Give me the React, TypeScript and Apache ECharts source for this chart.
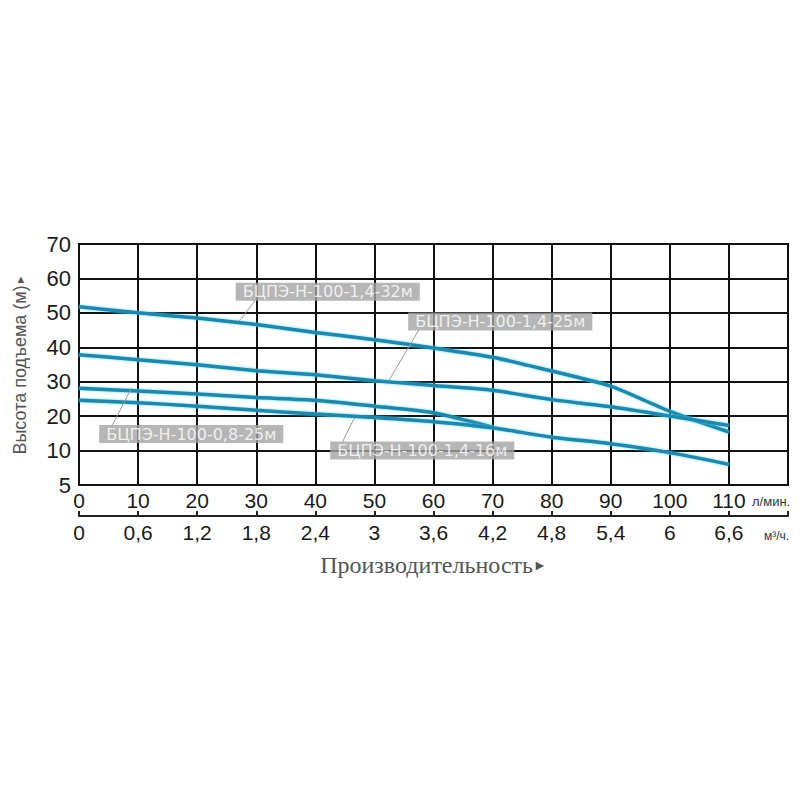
import React, { useEffect, useRef } from "react";
import * as echarts from "echarts";

// Flow, l/min
const flowLpm = [0, 10, 20, 30, 40, 50, 60, 70, 80, 90, 100, 110];
// Head (plot units; bottom gridline labelled "5")
const head32 = [51.8, 50, 48.5, 46.6, 44.3, 42.2, 39.8, 37.1, 33.1, 28.7, 21.4, 15.4];
const head25 = [37.8, 36.4, 34.9, 33.2, 32, 30.3, 28.9, 27.5, 24.8, 22.7, 20, 17.3];
const head08 = [28.1, 27.3, 26.4, 25.4, 24.6, 22.9, 21, 16.8];
const head16 = [24.6, 23.9, 22.9, 21.7, 20.6, 19.6, 18.4, 16.6, 13.9, 12, 9.4, 6];

const seriesNames = [
  "БЦПЭ-Н-100-1,4-32м",
  "БЦПЭ-Н-100-1,4-25м",
  "БЦПЭ-Н-100-0,8-25м",
  "БЦПЭ-Н-100-1,4-16м",
];
// label box centres (data coords)
const labelPos = [
  [42.1, 56.1],
  [71.3, 47.5],
  [19, 14.8],
  [58.1, 10],
];
// leader lines (data coords): curve point -> label
const leaders = [
  [[27, 47.4], [29.8, 53.5]],
  [[52.5, 30.5], [57.5, 45]],
  [[8.9, 28.2], [5.5, 16.9]],
  [[46.6, 19.5], [44.6, 12.5]],
];

const yTicks = [0, 10, 20, 30, 40, 50, 60, 70];
const yTickLabels = ["5", "10", "20", "30", "40", "50", "60", "70"];

const LINE_COLOR = "#1a88ae";

export default function App() {
  const ref = useRef<HTMLDivElement>(null);
  useEffect(() => {
    if (!ref.current) return;
    const chart = echarts.init(ref.current, undefined, { renderer: "svg" });
    const toPairs = (arr: number[]) => arr.map((v, i) => [flowLpm[i], v]);
    const lineSeries = [head32, head25, head08, head16].map((d, i) => ({
      type: "line",
      name: seriesNames[i],
      data: toPairs(d),
      showSymbol: false,
      smooth: 0.2,
      xAxisIndex: 0,
      yAxisIndex: 0,
      z: 3,
      lineStyle: {
        color: LINE_COLOR,
        width: 3.5,
        shadowColor: "rgba(60,205,245,0.9)",
        shadowBlur: 2,
      },
    }));
    chart.setOption({
      animation: false,
      grid: {
        left: 79,
        right: 12,
        top: 244,
        bottom: 315,
        show: true,
        borderColor: "#111",
        borderWidth: 2,
      },
      xAxis: [
        {
          type: "value",
          min: 0,
          max: 120,
          interval: 10,
          position: "bottom",
          axisLine: { show: true, lineStyle: { color: "#111", width: 2 } },
          axisTick: { show: false },
          splitLine: { show: true, lineStyle: { color: "#111", width: 2 } },
          axisLabel: {
            fontSize: 21,
            color: "#1a1a1a",
            fontFamily: "Liberation Sans, Arial, sans-serif",
            margin: 5,
            formatter: (v: number) => (v > 115 ? "" : String(v)),
          },
        },
        {
          type: "value",
          min: 0,
          max: 7.2,
          interval: 0.6,
          position: "bottom",
          offset: 31,
          axisLine: { show: true, lineStyle: { color: "#222", width: 2 } },
          axisTick: { show: true, inside: true, length: 5, lineStyle: { color: "#222", width: 2 } },
          splitLine: { show: false },
          axisLabel: {
            fontSize: 21,
            color: "#1a1a1a",
            fontFamily: "Liberation Sans, Arial, sans-serif",
            margin: 6,
            formatter: (v: number) =>
              v > 7 ? "" : String(Math.round(v * 10) / 10).replace(".", ","),
          },
          name: "Производительность{t|►}",
          nameLocation: "middle",
          nameGap: 37,
          nameTextStyle: {
            fontSize: 24,
            color: "#555",
            fontFamily: "Liberation Serif, DejaVu Serif, serif",
            rich: { t: { fontSize: 14, color: "#555" } },
          },
        },
      ],
      yAxis: {
        type: "value",
        min: 0,
        max: 70,
        interval: 10,
        axisLine: { show: true, lineStyle: { color: "#111", width: 2 } },
        axisTick: { show: false },
        splitLine: { show: true, lineStyle: { color: "#111", width: 2 } },
        axisLabel: {
          fontSize: 22,
          color: "#1a1a1a",
          fontFamily: "Liberation Sans, Arial, sans-serif",
          margin: 8,
          formatter: (v: number) => yTickLabels[yTicks.indexOf(v)] ?? String(v),
        },
        name: "Высота подъема (м){t|►}",
        nameLocation: "middle",
        nameRotate: 90,
        nameGap: 50,
        nameTextStyle: {
          fontSize: 18,
          color: "#555",
          fontFamily: "Liberation Sans, Arial, sans-serif",
          rich: { t: { fontSize: 11, color: "#555" } },
        },
      },
      series: [
        ...lineSeries,
        {
          type: "lines",
          coordinateSystem: "cartesian2d",
          xAxisIndex: 0,
          yAxisIndex: 0,
          silent: true,
          z: 4,
          lineStyle: { color: "#9a9a9a", width: 1, opacity: 1 },
          data: leaders.map((c) => ({ coords: c })),
        },
        {
          type: "scatter",
          xAxisIndex: 0,
          yAxisIndex: 0,
          silent: true,
          z: 5,
          symbolSize: 1,
          itemStyle: { color: "rgba(0,0,0,0)" },
          data: labelPos.map((p, i) => ({ value: p, name: seriesNames[i] })),
          label: {
            show: true,
            position: "inside",
            formatter: "{b}",
            color: "#fff",
            fontSize: 16,
            fontFamily: "DejaVu Sans",
            backgroundColor: "#a4a4a4",
            padding: [1, 7, 1, 7],
          },
        },
      ],
      graphic: [
        {
          type: "text",
          left: 752,
          top: 495,
          style: { text: "л/мин.", fontSize: 13, fill: "#333", fontFamily: "Liberation Sans, Arial, sans-serif" },
        },
        {
          type: "text",
          left: 764,
          top: 530,
          style: { text: "м³/ч.", fontSize: 12, fill: "#333", fontFamily: "Liberation Sans, Arial, sans-serif" },
        },
      ],
    });
    return () => chart.dispose();
  }, []);
  return <div ref={ref} style={{ width: 800, height: 800, position: "absolute", left: 0, top: 0 }} />;
}
